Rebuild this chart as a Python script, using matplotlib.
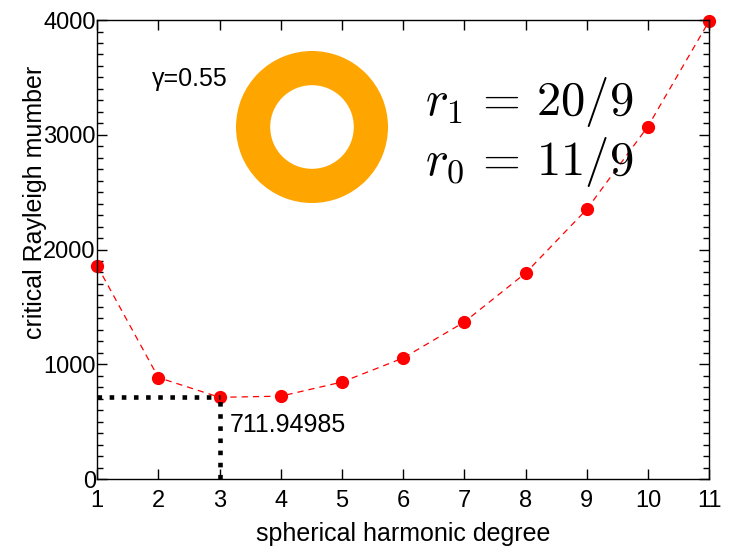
import numpy as np
import matplotlib
matplotlib.use('Agg')
import matplotlib.pyplot as plt
from matplotlib.patches import Wedge
from matplotlib.ticker import MultipleLocator

# critical Rayleigh number per spherical harmonic degree, gamma = 0.55
degree = [1, 2, 3, 4, 5, 6, 7, 8, 9, 10, 11]
ra_crit = [1858, 884, 711.94985, 722, 845, 1054, 1368, 1794, 2350, 3072, 3990]
l_min = 3
ra_min = 711.94985

plt.rcParams['font.family'] = ['Liberation Sans', 'DejaVu Sans']
plt.rcParams['mathtext.fontset'] = 'cm'

fig = plt.figure(figsize=(7.31, 5.46), dpi=100)
ax = fig.add_axes([0.133, 0.1227, 0.837, 0.8406])

ax.plot(degree, ra_crit, 'r--', lw=0.9, dashes=(5, 4))
ax.plot(degree, ra_crit, 'o', color='red', ms=8.5, clip_on=False)

# dotted guides to the minimum
ax.plot([1, l_min], [ra_min, ra_min], color='black', ls=':', lw=3.3)
ax.plot([l_min, l_min], [0, ra_min], color='black', ls=':', lw=3.3)
ax.text(l_min + 0.17, 470, '%.5f' % ra_min, fontsize=18, va='center')

ax.text(1.90, 3490, '\u03b3=0.55', fontsize=18, va='center')
ax.text(6.36, 3285, r'$r_1 \,=\, 20/9$', fontsize=35, va='center')
ax.text(6.36, 2765, r'$r_0 \,=\, 11/9$', fontsize=35, va='center')

ax.set_xlim(1, 11)
ax.set_ylim(0, 4000)
ax.xaxis.set_major_locator(MultipleLocator(1))
ax.yaxis.set_major_locator(MultipleLocator(1000))
ax.yaxis.set_minor_locator(MultipleLocator(100))
ax.tick_params(which='both', direction='in', top=True, right=True, labelsize=17)
ax.tick_params(which='major', length=7, width=1)
ax.tick_params(which='minor', length=4, width=1)
ax.tick_params(axis='y', pad=1)
ax.tick_params(axis='x', pad=8)
for s in ax.spines.values():
    s.set_linewidth(1)

ax.set_xlabel('spherical harmonic degree', fontsize=18, labelpad=7)
ax.set_ylabel('critical Rayleigh mumber', fontsize=18)
ax.yaxis.set_label_coords(-0.082, 0.6035)

# shell cross-section
ring = fig.add_axes([236 / 731, 1 - 203 / 546, 152 / 731, 152 / 546])
ring.add_patch(Wedge((0, 0), 1.0, 0, 360, width=0.45, color='orange', lw=0))
ring.set_xlim(-1, 1)
ring.set_ylim(-1, 1)
ring.set_aspect('equal')
ring.axis('off')

fig.savefig('out.png', dpi=100)
